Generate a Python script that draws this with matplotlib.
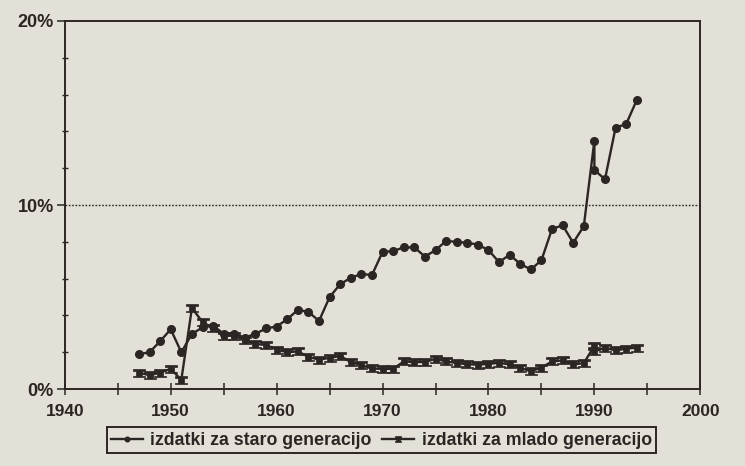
import matplotlib
matplotlib.use("Agg")
import matplotlib.pyplot as plt
from matplotlib.path import Path
from matplotlib.ticker import MultipleLocator, FuncFormatter

# leta (1990 se pojavi dvakrat - prelom v seriji)
years = [1947, 1948, 1949, 1950, 1951, 1952, 1953, 1954, 1955, 1956,
         1957, 1958, 1959, 1960, 1961, 1962, 1963, 1964, 1965, 1966,
         1967, 1968, 1969, 1970, 1971, 1972, 1973, 1974, 1975, 1976,
         1977, 1978, 1979, 1980, 1981, 1982, 1983, 1984, 1985, 1986,
         1987, 1988, 1989, 1990, 1990, 1991, 1992, 1993, 1994]

# izdatki za staro generacijo (%)
staro = [1.9, 2.0, 2.6, 3.25, 2.0, 3.0, 3.35, 3.45, 3.0, 3.0,
         2.8, 3.0, 3.3, 3.4, 3.8, 4.3, 4.2, 3.7, 5.0, 5.7,
         6.05, 6.25, 6.2, 7.45, 7.5, 7.7, 7.7, 7.2, 7.55, 8.05,
         8.0, 7.95, 7.85, 7.55, 6.9, 7.3, 6.8, 6.5, 7.0, 8.7,
         8.9, 7.95, 8.85, 13.5, 11.9, 11.4, 14.2, 14.4, 15.7]

# izdatki za mlado generacijo (%)
mlado = [0.9, 0.75, 0.9, 1.1, 0.5, 4.4, 3.65, 3.3, 2.9, 2.9,
         2.65, 2.45, 2.4, 2.15, 2.0, 2.05, 1.75, 1.6, 1.7, 1.8,
         1.47, 1.3, 1.12, 1.1, 1.1, 1.5, 1.47, 1.47, 1.65, 1.5,
         1.42, 1.35, 1.33, 1.37, 1.43, 1.34, 1.15, 0.97, 1.17, 1.5,
         1.56, 1.34, 1.41, 2.35, 2.05, 2.25, 2.1, 2.2, 2.25]

bg = '#e3e0d7'
ink = '#2b2623'

plt.rcParams['font.family'] = ['Liberation Sans', 'DejaVu Sans']

# marker v obliki "I"
ibeam = Path([(-1, 0.8), (1, 0.8), (1, 0.45), (0.55, 0.45), (0.55, -0.45),
              (1, -0.45), (1, -0.8), (-1, -0.8), (-1, -0.45), (-0.55, -0.45),
              (-0.55, 0.45), (-1, 0.45), (-1, 0.8)], closed=True)

fig = plt.figure(figsize=(7.45, 4.66), dpi=100, facecolor=bg)
ax = fig.add_axes([0.087, 0.165, 0.853, 0.79])
ax.set_facecolor(bg)

ax.plot(years, staro, color=ink, lw=1.7, marker='o', ms=5.5,
        mfc=ink, mec=ink, label='izdatki za staro generacijo')
ax.plot(years, mlado, color=ink, lw=1.7, marker=ibeam, ms=8,
        mfc=ink, mec=ink, mew=0.5, label='izdatki za mlado generacijo')

ax.axhline(10, color=ink, lw=1.0, ls=(0, (1.2, 1.2)))

ax.set_xlim(1940, 2000)
ax.set_ylim(0, 20)
ax.xaxis.set_major_locator(MultipleLocator(10))
ax.xaxis.set_minor_locator(MultipleLocator(5))
ax.yaxis.set_major_locator(MultipleLocator(10))
ax.yaxis.set_minor_locator(MultipleLocator(2))
ax.yaxis.set_major_formatter(FuncFormatter(lambda v, p: '%d%%' % v))

ax.tick_params(axis='x', which='both', direction='inout', length=9,
               width=1.1, color=ink, labelsize=12.5, labelcolor=ink, pad=6)
ax.tick_params(axis='y', which='major', direction='out', length=6,
               width=1.1, color=ink, labelsize=13, labelcolor=ink, pad=2)
ax.tick_params(axis='y', which='minor', direction='inout', length=5,
               width=1.0, color=ink)
for lab in ax.get_xticklabels() + ax.get_yticklabels():
    lab.set_fontweight('bold')

for s in ax.spines.values():
    s.set_color(ink)
    s.set_linewidth(1.4)

leg = fig.legend(loc='upper center', bbox_to_anchor=(0.512, 0.083), ncol=2,
                 frameon=True, fancybox=False, edgecolor=ink, facecolor=bg,
                 framealpha=1, handlelength=1.8, handletextpad=0.4,
                 columnspacing=0.6, borderpad=0.25, borderaxespad=0,
                 markerscale=0.6, prop={'size': 12.8, 'weight': 'bold'})
leg.get_frame().set_linewidth(1.4)
for t in leg.get_texts():
    t.set_color(ink)

fig.savefig('out.png', dpi=100, facecolor=bg)
